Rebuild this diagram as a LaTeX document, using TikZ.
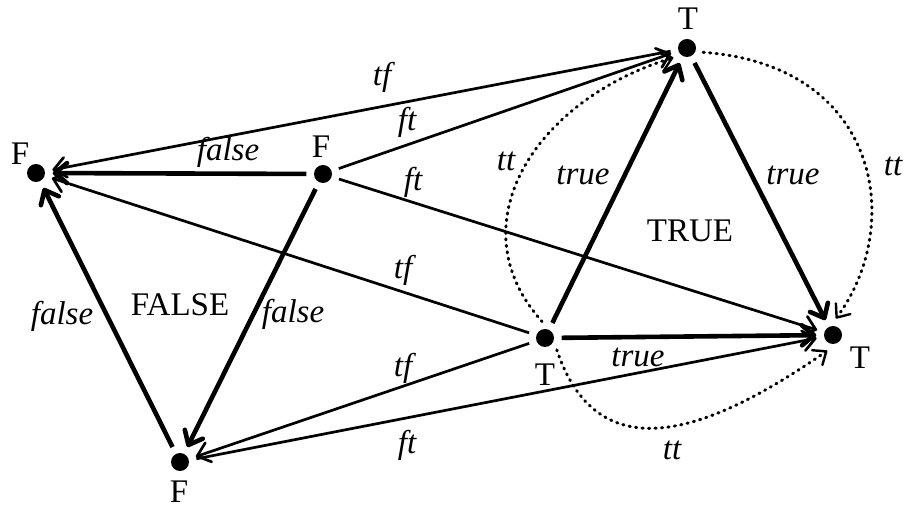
\documentclass[tikz,border=0pt]{standalone}
\usepackage{fontspec}
\setmainfont{Liberation Serif}
\usetikzlibrary{arrows.meta}
\begin{document}
\begin{tikzpicture}[x=1pt,y=-1pt,
  vtx/.style={circle, minimum size=33pt, inner sep=0pt},
  blob/.style={circle, fill=black, minimum size=18pt, inner sep=0pt},
  txt/.style={font=\fontsize{33}{38}\selectfont, inner sep=0pt},
  itxt/.style={font=\fontsize{33}{38}\selectfont\itshape, inner sep=0pt},
  tipA/.style={-{Straight Barb[length=12pt,width=20pt,round]}},
  thinedge/.style={line width=2.7pt, tipA},
  thickedge/.style={line width=4.6pt, tipA},
  dotedge/.style={line width=3pt, line cap=round, dash pattern=on 1.2pt off 5.3pt,
     -{Straight Barb[length=11pt,width=18pt,round,line width=2.4pt]}},
]
\useasboundingbox (0,0) rectangle (906,510);

% vertices
\node[vtx] (tT) at (687,48) {};
\node[vtx] (lF) at (36,173) {};
\node[vtx] (mF) at (323,174) {};
\node[vtx] (mT) at (545,338) {};
\node[vtx] (rT) at (833,335) {};
\node[vtx] (bF) at (180,462) {};
\foreach \n in {tT,lF,mF,mT,rT,bF} \node[blob] at (\n) {};

% vertex letters
\node[txt] (ltT) at (688,19) {T};
\node[txt] (llF) at (20,154) {F};
\node[txt] (lmF) at (321,147) {F};
\node[txt] (lmT) at (545,375) {T};
\node[txt] (lrT) at (860,358) {T};
\node[txt] (lbF) at (179,492) {F};

% area labels
\node[txt] (TRUE) at (690,231) {TRUE};
\node[txt] (FALSE) at (180,305) {FALSE};

% straight edges
\draw[thinedge] (tT) -- (lF);
\draw[thinedge] (mF) -- (tT);
\draw[thickedge] (mF) -- (lF);
\draw[thinedge] (mF) -- (rT);
\draw[thickedge] (mF) -- (bF);
\draw[thickedge] (bF) -- (lF);
\draw[thinedge] (mT) -- (lF);
\draw[thickedge] (mT) -- (tT);
\draw[thickedge] (tT) -- (rT);
\draw[thickedge] (mT) -- (rT);
\draw[thinedge] (mT) -- (bF);
\draw[thinedge] (bF) -- (rT);

% dotted curves
\draw[dotedge] (tT.-15) .. controls (880,65) and (905,225) .. (rT.80);
\draw[dotedge] (mT.100) .. controls (455,225) and (535,100) .. (tT.215);
\draw[dotedge] (mT.-45) .. controls (600,480) and (720,425) .. (rT.250);

% edge labels
\node[itxt] (e1) at (382,77) {tf};
\node[itxt] (e2) at (407,122) {ft};
\node[itxt] (e3) at (228,152) {false};
\node[itxt] (e4) at (413,182) {ft};
\node[itxt] (e5) at (506,161) {tt};
\node[itxt] (e6) at (583,175) {true};
\node[itxt] (e7) at (793,175) {true};
\node[itxt] (e8) at (893,166) {tt};
\node[itxt] (e9) at (403,270) {tf};
\node[itxt] (e10) at (62,316) {false};
\node[itxt] (e11) at (293,314) {false};
\node[itxt] (e12) at (403,368) {tf};
\node[itxt] (e13) at (638,357) {true};
\node[itxt] (e14) at (407,445) {ft};
\node[itxt] (e15) at (672,450) {tt};
\end{tikzpicture}
\end{document}
